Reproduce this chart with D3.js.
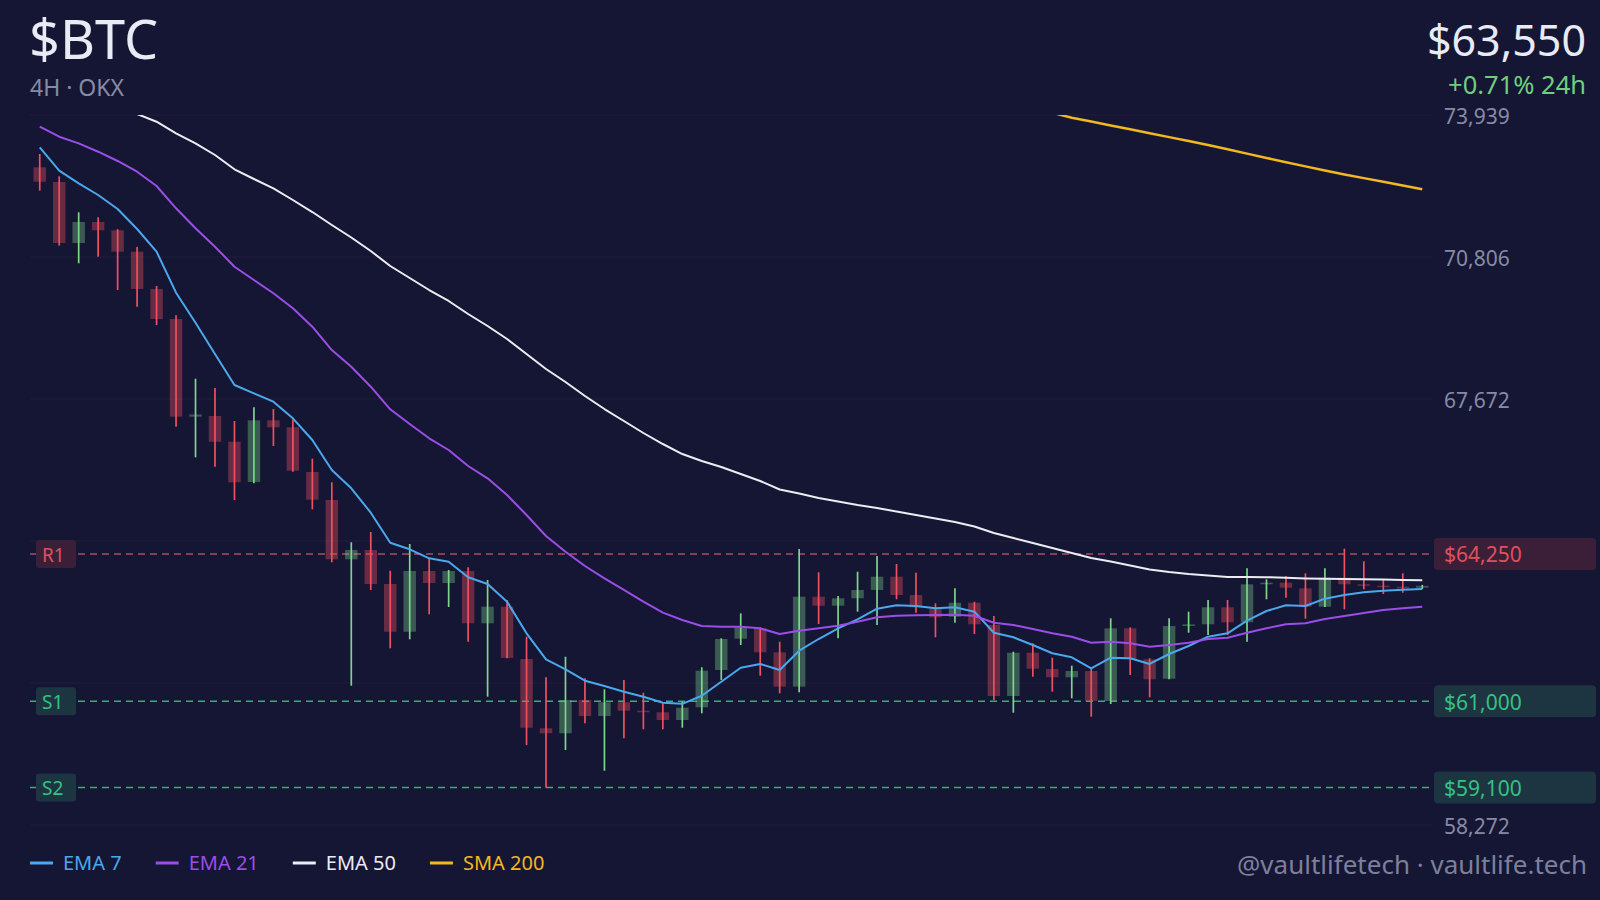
<!DOCTYPE html>
<html>
<head>
<meta charset="utf-8">
<script src="https://cdn.jsdelivr.net/npm/d3@7"></script>
<style>
  html, body { margin: 0; padding: 0; background: #151534; }
  svg { display: block; }
  text { font-family: "Noto Sans", "Open Sans", sans-serif; }
</style>
</head>
<body>
<svg id="chart" width="1600" height="900"></svg>
<script>
// ---------------- DATA ----------------
const opens  = [72785,72460,71114,71578,71395,70923,70099,69437,67282,67297,66730,65841,67202,67048,66061,65443,64135,64340,63590,62537,63877,63612,63877,62723,63089,61935,60406,60295,61030,60677,60980,60794,60759,60589,60869,61692,62383,62612,62083,61324,63310,63111,63274,63458,63751,63347,63054,62868,63177,62685,61119,62074,61714,61531,61670,61008,62612,61928,61500,62663,62700,63076,62745,63583,63619,63495,63089,63729,63583,63552,63530,63508];
const highs  = [73078,72586,71792,71682,71420,71026,70166,69519,68120,67915,67187,67489,67451,67224,66355,65834,64510,64737,63883,64473,64142,63899,63958,63678,63237,62427,61531,61986,61509,61266,61472,61191,60957,60993,61752,62392,62943,62634,62317,64362,63848,63325,63861,64208,64031,63839,63164,63495,63199,62884,62096,62281,61964,61787,61714,62833,62634,61950,62833,62979,63237,63237,63936,63694,63766,63826,63936,64369,64091,63678,63826,63570];
const lows   = [72269,71055,70667,70812,70077,69709,69305,67061,66386,66178,65443,65812,66635,66068,65238,64069,61346,63458,62171,62370,62921,63082,62317,61103,61950,60037,59095,59927,60516,59470,60185,60384,60384,60419,60737,61472,62244,61566,61178,61200,62707,62392,62979,62685,63252,62957,62414,62736,62487,61030,60750,61544,61213,61068,60662,60942,61582,61090,61487,62515,62465,62465,62317,63252,63288,62824,63080,63032,63473,63369,63398,63480];
const closes = [72467,71114,71578,71395,70923,70099,69437,67282,67330,66730,65834,67202,67048,66090,65450,64135,64340,63590,62537,63877,63612,63877,62723,63089,61960,60419,60295,61030,60677,60980,60794,60760,60589,60860,61677,62376,62634,62083,61324,63310,63111,63274,63458,63751,63347,63076,62855,63177,62701,61119,62074,61721,61531,61670,61008,62612,61928,61487,62663,62700,63076,62745,63583,63619,63508,63089,63729,63583,63552,63530,63508,63550];

const ema7   = [73226,72710,72432,72174,71865,71423,70923,70018,69356,68665,67981,67798,67613,67246,66767,66105,65702,65163,64501,64356,64157,64082,63738,63590,63199,62502,61928,61708,61456,61339,61213,61103,60971,60946,61125,61434,61743,61825,61692,62118,62376,62612,62811,63045,63120,63104,63054,63076,62979,62515,62414,62244,62061,61972,61730,61964,61950,61825,62045,62222,62427,62502,62780,62994,63120,63104,63266,63347,63407,63442,63464,63480];
const ema21  = [73681,73460,73314,73129,72924,72688,72372,71880,71439,71033,70591,70298,70005,69673,69268,68753,68385,67944,67445,67120,66805,66547,66194,65922,65554,65112,64649,64303,63987,63716,63458,63199,62957,62796,62663,62648,62648,62612,62487,62559,62612,62670,62758,62855,62890,62899,62906,62913,62890,62736,62685,62597,62502,62427,62295,62317,62281,62206,62244,62295,62376,62405,62515,62612,62701,62723,62818,62884,62950,63016,63054,63089];
const ema50  = [75064,74844,74623,74402,74182,73961,73791,73535,73314,73056,72741,72527,72321,72063,71798,71512,71236,70938,70607,70342,70077,69835,69548,69283,68996,68665,68334,68047,67738,67451,67187,66922,66679,66458,66304,66172,66017,65863,65675,65587,65488,65410,65333,65267,65190,65112,65035,64958,64859,64715,64605,64495,64384,64274,64164,64086,63998,63910,63855,63811,63777,63744,63744,63740,63729,63713,63705,63700,63694,63687,63678,63672];
const sma200 = [null,null,null,null,null,null,null,null,null,null,null,null,null,null,null,null,null,null,null,null,null,null,null,null,null,null,null,null,null,null,null,null,null,null,null,null,null,null,null,null,null,null,null,null,null,null,null,null,null,null,null,74080,73990,73877,73795,73707,73623,73537,73451,73365,73277,73182,73087,72992,72897,72805,72714,72628,72546,72465,72383,72299];

const yTicks = [73939, 70806, 67672, 64539, 61405, 58272];

const levelNames  = ["R1", "S1", "S2"];
const levelValues = [64250, 61000, 59100];
const levelKinds  = ["res", "sup", "sup"];

const seriesNames = ["EMA 7", "EMA 21", "EMA 50", "SMA 200"];

const symbol = "$BTC";
const subtitle = "4H · OKX";
const lastPrice = 63550;
const change24h = "+0.71% 24h";
const watermark = "@vaultlifetech · vaultlife.tech";

// ---------------- STYLE ----------------
const C = {
  bg: "#151534",
  grid: "#20203d",
  up: "#7dd68a",
  down: "#f0505f",
  title: "#e8ebf4",
  muted: "#868ba3",
  green: "#6fcf7f",
  res: "#e0505c",
  resFill: "#3b1f38",
  resLine: "#b44a5a",
  sup: "#34c283",
  supFill: "#1d3540",
  supLine: "#2bb57a",
  lines: ["#4aa8ec", "#9a4ee6", "#ececf2", "#f2b81f"]
};

const W = 1600, H = 900;
const P = { l: 30, r: 1432, t: 115, b: 825 };

const svg = d3.select("#chart");
svg.append("rect").attr("width", W).attr("height", H).attr("fill", C.bg);

const n = closes.length;
const x = d3.scaleBand().domain(d3.range(n)).range([P.l, P.r]).paddingInner(0.36).paddingOuter(0.18);
const y = d3.scaleLinear().domain([yTicks[yTicks.length - 1], yTicks[0]]).range([P.b, P.t]);
const cx = i => x(i) + x.bandwidth() / 2;

svg.append("defs").append("clipPath").attr("id", "plotclip")
  .append("rect").attr("x", P.l).attr("y", P.t).attr("width", P.r - P.l).attr("height", P.b - P.t);

// grid
svg.append("g").selectAll("line").data(yTicks).join("line")
  .attr("x1", P.l).attr("x2", P.r)
  .attr("y1", d => y(d)).attr("y2", d => y(d))
  .attr("stroke", C.grid).attr("stroke-width", 1.2);

// level lines
const levels = levelValues.map((v, i) => ({ v, name: levelNames[i], kind: levelKinds[i] }));
svg.append("g").selectAll("line").data(levels).join("line")
  .attr("x1", P.l).attr("x2", P.r)
  .attr("y1", d => y(d.v)).attr("y2", d => y(d.v))
  .attr("stroke", d => d.kind === "res" ? C.resLine : C.supLine)
  .attr("stroke-width", 1.5)
  .attr("stroke-dasharray", "7,5");

// candles
const candles = d3.range(n).map(i => ({ i, o: opens[i], h: highs[i], l: lows[i], c: closes[i] }));
const cg = svg.append("g").attr("clip-path", "url(#plotclip)");
cg.selectAll("rect.body").data(candles).join("rect")
  .attr("class", "body")
  .attr("x", d => x(d.i))
  .attr("width", x.bandwidth())
  .attr("y", d => y(Math.max(d.o, d.c)))
  .attr("height", d => Math.max(1.5, Math.abs(y(d.o) - y(d.c))))
  .attr("fill", d => d.c >= d.o ? C.up : C.down)
  .attr("fill-opacity", d => d.c >= d.o ? 0.36 : 0.38);
cg.selectAll("line.wick").data(candles).join("line")
  .attr("class", "wick")
  .attr("x1", d => cx(d.i)).attr("x2", d => cx(d.i))
  .attr("y1", d => y(d.h)).attr("y2", d => y(d.l))
  .attr("stroke", d => d.c >= d.o ? C.up : C.down)
  .attr("stroke-width", 1.7);

// MA lines
const allSeries = [ema7, ema21, ema50, sma200];
const lg = svg.append("g").attr("clip-path", "url(#plotclip)");
allSeries.forEach((s, k) => {
  const line = d3.line()
    .defined(d => d != null)
    .x((d, i) => cx(i))
    .y(d => y(d));
  lg.append("path").datum(s)
    .attr("d", line)
    .attr("fill", "none")
    .attr("stroke", C.lines[k])
    .attr("stroke-width", k === 3 ? 2.5 : 2)
    .attr("stroke-linejoin", "round");
});

// level labels (left and right)
const lvl = svg.append("g");
levels.forEach(d => {
  const col = d.kind === "res" ? C.res : C.sup;
  const fill = d.kind === "res" ? C.resFill : C.supFill;
  lvl.append("rect").attr("x", 36).attr("y", y(d.v) - 14).attr("width", 40).attr("height", 28)
    .attr("rx", 3).attr("fill", fill);
  lvl.append("text").attr("x", 42).attr("y", y(d.v) + 1).attr("dy", "0.35em")
    .attr("font-size", 19).attr("fill", col).text(d.name);
  lvl.append("rect").attr("x", 1434).attr("y", y(d.v) - 16).attr("width", 162).attr("height", 32)
    .attr("rx", 4).attr("fill", fill);
  lvl.append("text").attr("x", 1444).attr("y", y(d.v) + 1).attr("dy", "0.35em")
    .attr("font-size", 21).attr("fill", col).text(d3.format("$,")(d.v));
});

// y tick labels (those behind level tags are hidden)
const fmt = d3.format(",");
svg.append("g").selectAll("text").data(yTicks.filter(t => levels.every(l => Math.abs(y(l.v) - y(t)) > 24))).join("text")
  .attr("x", 1444).attr("y", d => y(d) + 2).attr("dy", "0.35em")
  .attr("font-size", 21).attr("fill", C.muted).text(d => fmt(d));

// header
svg.append("text").attr("x", 29).attr("y", 59).attr("font-size", 54).attr("fill", C.title).text(symbol);
svg.append("text").attr("x", 30).attr("y", 96).attr("font-size", 23).attr("fill", C.muted).text(subtitle);
svg.append("text").attr("x", 1586).attr("y", 56).attr("text-anchor", "end")
  .attr("font-size", 43).attr("fill", C.title).text(d3.format("$,")(lastPrice));
svg.append("text").attr("x", 1586).attr("y", 94).attr("text-anchor", "end")
  .attr("font-size", 25.5).attr("fill", C.green).text(change24h);

// legend
const leg = svg.append("g");
let lx = 30;
seriesNames.forEach((name, k) => {
  leg.append("line").attr("x1", lx).attr("x2", lx + 23).attr("y1", 863).attr("y2", 863)
    .attr("stroke", C.lines[k]).attr("stroke-width", 3);
  const t = leg.append("text").attr("x", lx + 33).attr("y", 863).attr("dy", "0.35em")
    .attr("font-size", 20).attr("fill", C.lines[k]).text(name);
  lx = lx + 33 + t.node().getComputedTextLength() + 34;
});

// watermark
svg.append("text").attr("x", 1587).attr("y", 874).attr("text-anchor", "end")
  .attr("font-size", 26).attr("fill", "#7c809a").text(watermark);
</script>
</body>
</html>
